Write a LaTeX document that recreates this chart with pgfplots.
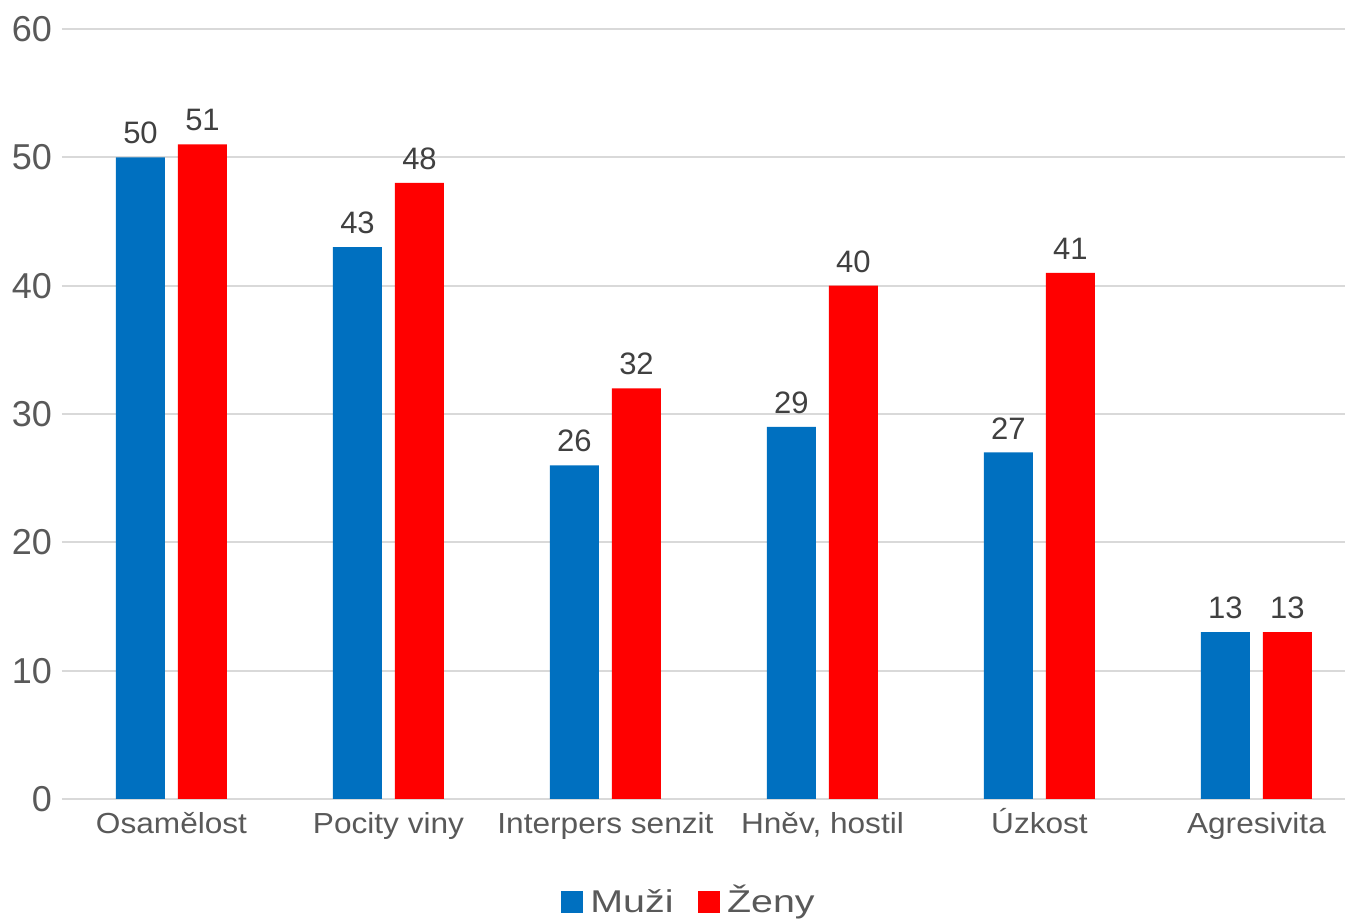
\documentclass[border=0pt]{standalone}
\usepackage{fontspec}
\setmainfont{Liberation Sans}
\newfontfamily\catfont{Liberation Sans}[FakeStretch=1.09]
\newfontfamily\legfont{Liberation Sans}[FakeStretch=1.25]
\usepackage{pgfplots}
\pgfplotsset{compat=1.18}
\definecolor{muzi}{HTML}{0070C0}
\definecolor{zeny}{HTML}{FF0000}
\definecolor{gridgray}{HTML}{D9D9D9}
\definecolor{ticktext}{HTML}{595959}
\definecolor{valtext}{HTML}{404040}

\begin{document}
\begin{tikzpicture}
\begin{axis}[
  at={(62pt,121pt)}, anchor=south west,
  scale only axis, width=1283pt, height=770pt,
  ybar=13pt, bar width=49pt,
  xmin=-0.5046, xmax=5.4078, ymin=0, ymax=60,
  xtick=data,
  xticklabels={Osamělost, Pocity viny, Interpers senzit, {Hněv, hostil}, Úzkost, Agresivita},
  ytick={0,10,...,60},
  ymajorgrids, grid style={gridgray, line width=2pt},
  axis line style={draw=none},
  major tick length=0pt,
  tick style={draw=none},
  /pgf/number format/assume math mode=true,
  yticklabel style={font=\fontsize{36}{40}\selectfont, text=ticktext, anchor=east, inner sep=0pt, xshift=-10pt},
  xticklabel style={font=\catfont\fontsize{29}{34}\selectfont, text=ticktext, anchor=base, inner sep=0pt, yshift=-35pt},
  nodes near coords,
  every node near coord/.append style={font=\fontsize{31}{36}\selectfont, text=valtext, anchor=south, inner sep=0pt, yshift=13pt},
  clip=false,
  legend columns=2,
  legend cell align=left,
  legend image code/.code={\fill[#1] (0pt,0pt) rectangle (22pt,22pt);},
  legend style={at={(0.3889,-0.14805)}, anchor=south west, draw=none, fill=none,
    inner sep=0pt, outer sep=0pt, font=\legfont\fontsize{31.5}{36}\selectfont, text=ticktext,
    cells={anchor=base west}, nodes={inner sep=0pt, text depth=0pt},
    /tikz/every odd column/.append style={column sep=7.5pt},
    /tikz/every even column/.append style={column sep=24pt}},
]
\addplot[fill=muzi, draw=none] coordinates {(0,50) (1,43) (2,26) (3,29) (4,27) (5,13)};
\addlegendentry{Muži}
\addplot[fill=zeny, draw=none] coordinates {(0,51) (1,48) (2,32) (3,40) (4,41) (5,13)};
\addlegendentry{Ženy}
\end{axis}
\pgfresetboundingbox
\useasboundingbox (0pt,0pt) rectangle (1345pt,920pt);
\end{tikzpicture}
\end{document}
